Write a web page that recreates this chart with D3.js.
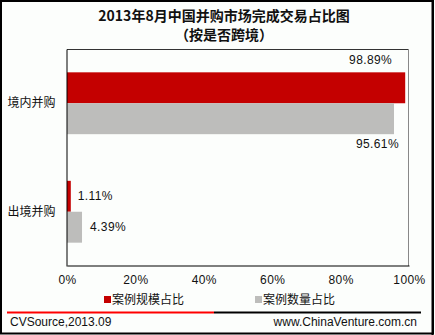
<!DOCTYPE html>
<html><head><meta charset="utf-8">
<script src="https://cdn.jsdelivr.net/npm/d3@7"></script>
<style>
html,body{margin:0;padding:0;background:#fcfefc;}
svg{display:block;}
text{font-family:"Liberation Sans",Arial,"Noto Sans CJK SC",sans-serif;}
</style></head>
<body>
<script>
const categories = ["境内并购", "出境并购"];
const seriesNames = ["案例规模占比", "案例数量占比"];
const scaleShare = [98.89, 1.11];
const countShare = [95.61, 4.39];
const tickValues = [0, 20, 40, 60, 80, 100];
const tickLabels = ["0%", "20%", "40%", "60%", "80%", "100%"];
const titleLines = ["2013年8月中国并购市场完成交易占比图", "（按是否跨境）"];
const footerLeft = "CVSource,2013.09";
const footerRight = "www.ChinaVenture.com.cn";
const colors = ["#c40000", "#bdbdbb"];

const W = 435, H = 335;
const svg = d3.select("body").append("svg").attr("width", W).attr("height", H);
svg.append("rect").attr("width", W).attr("height", H).attr("fill", "#fcfefc");

const plot = {left: 67, top: 49, right: 409, bottom: 266};
const x = d3.scaleLinear().domain([0, 100]).range([plot.left, plot.right]);
const y0 = d3.scaleBand().domain(categories).range([plot.top, plot.bottom]).paddingInner(0.43).paddingOuter(0.215);
const y1 = d3.scaleBand().domain(seriesNames).range([0, y0.bandwidth()]);

// title
svg.selectAll("text.title").data(titleLines).join("text")
  .attr("class", "title")
  .attr("x", 224).attr("y", (d, i) => 21 + i * 19)
  .attr("text-anchor", "middle")
  .style("font-family", "'Noto Sans CJK SC',sans-serif")
  .style("font-weight", "bold").style("font-size", "14px")
  .attr("fill", "#111").text(d => d);

// plot frame
svg.append("line").attr("x1", plot.left).attr("x2", plot.right).attr("y1", plot.top + 0.5).attr("y2", plot.top + 0.5).attr("stroke", "#333");
svg.append("line").attr("x1", plot.right - 0.5).attr("x2", plot.right - 0.5).attr("y1", plot.top).attr("y2", plot.bottom).attr("stroke", "#888");

const series = [scaleShare, countShare];
const rows = categories.map((c, i) => ({cat: c, vals: series.map((s, j) => ({name: seriesNames[j], v: s[i], j}))}));

const g = svg.selectAll("g.cat").data(rows).join("g").attr("class", "cat")
  .attr("transform", d => `translate(0,${y0(d.cat)})`);
g.selectAll("rect").data(d => d.vals).join("rect")
  .attr("x", x(0)).attr("y", d => y1(d.name))
  .attr("width", d => x(d.v) - x(0)).attr("height", y1.bandwidth())
  .attr("fill", d => colors[d.j]);

// value labels
g.selectAll("text.val").data(d => d.vals).join("text")
  .attr("class", "val")
  .style("font-size", "12px").style("letter-spacing", "0.4px").attr("fill", "#111")
  .attr("text-anchor", d => d.v > 90 ? "end" : "start")
  .attr("x", d => d.v > 90 ? (d.j === 0 ? x(d.v) - 13 : x(d.v) + 5) : x(d.v) + 7 + d.j)
  .attr("y", d => d.v > 90 ? (d.j === 0 ? y1(d.name) - 8 : y1(d.name) + y1.bandwidth() + 14) : y1(d.name) + y1.bandwidth() / 2 + 4)
  .text(d => d.v.toFixed(2) + "%");

// axes
const xAxis = d3.axisBottom(x).tickValues(tickValues).tickFormat((d, i) => tickLabels[i]).tickSize(0).tickPadding(10);
const ax = svg.append("g").attr("transform", `translate(0,${plot.bottom - 0.5})`).call(xAxis);
ax.select(".domain").attr("stroke", "#000");
ax.selectAll("text").style("font-size", "12px").style("letter-spacing", "0.4px").attr("fill", "#111")
  .style("font-family", "'Liberation Sans',Arial,sans-serif");

const yAxis = d3.axisLeft(y0).tickSize(0).tickPadding(11);
const ay = svg.append("g").attr("transform", `translate(${plot.left - 0.5},0)`).call(yAxis);
ay.select(".domain").attr("stroke", "#000");
ay.selectAll("text").style("font-size", "12px").attr("fill", "#111")
  .style("font-family", "'Noto Sans CJK SC',sans-serif");

// legend
const legX = [104, 255];
const lg = svg.selectAll("g.leg").data(seriesNames).join("g").attr("class", "leg")
  .attr("transform", (d, i) => `translate(${legX[i]},300)`);
lg.append("rect").attr("x", 0).attr("y", -4).attr("width", 7).attr("height", 7).attr("fill", (d, i) => colors[i]);
lg.append("text").attr("x", 8).attr("y", 4).style("font-size", "12px")
  .style("font-family", "'Noto Sans CJK SC',sans-serif").attr("fill", "#111").text(d => d);

// footer
svg.append("line").attr("x1", 7).attr("x2", 214).attr("y1", 312.5).attr("y2", 312.5).attr("stroke", "#ff0000").attr("stroke-width", 2);
svg.append("line").attr("x1", 214).attr("x2", 421).attr("y1", 312.5).attr("y2", 312.5).attr("stroke", "#000").attr("stroke-width", 2);
svg.append("text").attr("x", 10).attr("y", 326).style("font-size", "12px").attr("fill", "#111").text(footerLeft);
svg.append("text").attr("x", 417).attr("y", 326).attr("text-anchor", "end").style("font-size", "12px").attr("fill", "#111").text(footerRight);

// outer border
svg.append("rect").attr("x", 1).attr("y", 1).attr("width", W - 3).attr("height", H - 2.5)
  .attr("fill", "none").attr("stroke", "#000").attr("stroke-width", 2);
svg.append("line").attr("x1", 432.5).attr("x2", 432.5).attr("y1", 0).attr("y2", H).attr("stroke", "#000").attr("stroke-width", 2);
</script>
</body></html>
